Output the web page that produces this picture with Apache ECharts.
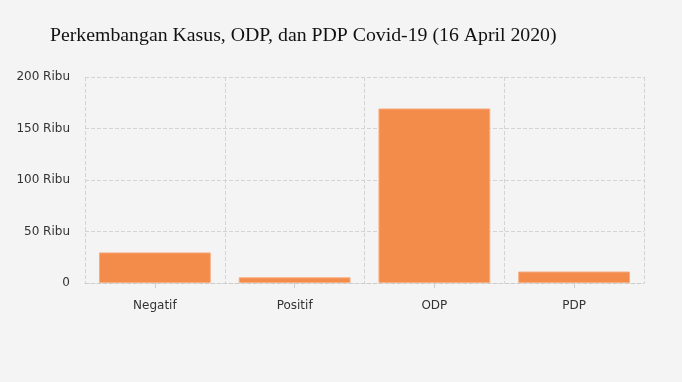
<!DOCTYPE html>
<html><head><meta charset="utf-8">
<script src="https://cdn.jsdelivr.net/npm/echarts@6/dist/echarts.min.js"></script>
<style>html,body{margin:0;padding:0;background:#f4f4f4}#c{width:682px;height:382px}</style>
</head><body><div id="c"></div>
<script>
const titleText = 'Perkembangan Kasus, ODP, dan PDP Covid-19 (16 April 2020)';
const categories = ['Negatif', 'Positif', 'ODP', 'PDP'];
const values = [29694, 5516, 169446, 11165];
const chart = echarts.init(document.getElementById('c'));
chart.setOption({
  backgroundColor: '#f4f4f4',
  animation: false,
  title: {text: titleText, left: 45, top: 21,
    textStyle: {fontFamily: 'Liberation Serif', fontSize: 19.8, fontWeight: 'normal', color: '#111'}},
  grid: {left: 85, right: 38, top: 77, bottom: 99},
  xAxis: {type: 'category', data: categories,
    axisLine: {show: true, lineStyle: {color: '#ccc', type: 'dashed'}},
    axisTick: {show: true, alignWithLabel: true, length: 5, lineStyle: {color: '#ccc'}},
    axisLabel: {fontFamily: 'DejaVu Sans', fontSize: 12, color: '#333', margin: 17},
    splitLine: {show: true, lineStyle: {color: '#d4d4d4', type: 'dashed'}}},
  yAxis: {type: 'value', min: 0, max: 200000, interval: 50000,
    axisLine: {show: false}, axisTick: {show: false},
    axisLabel: {fontFamily: 'DejaVu Sans', fontSize: 12, color: '#333', margin: 15,
      padding: [4, 0, 0, 0],
      formatter: v => v === 0 ? '0' : (v / 1000) + ' Ribu'},
    splitLine: {show: true, lineStyle: {color: '#d4d4d4', type: 'dashed'}}},
  series: [{type: 'bar', data: values, barWidth: '80%',
    itemStyle: {color: '#f38b4b', borderColor: '#f6ad80', borderWidth: 1}}]
});
</script></body></html>
